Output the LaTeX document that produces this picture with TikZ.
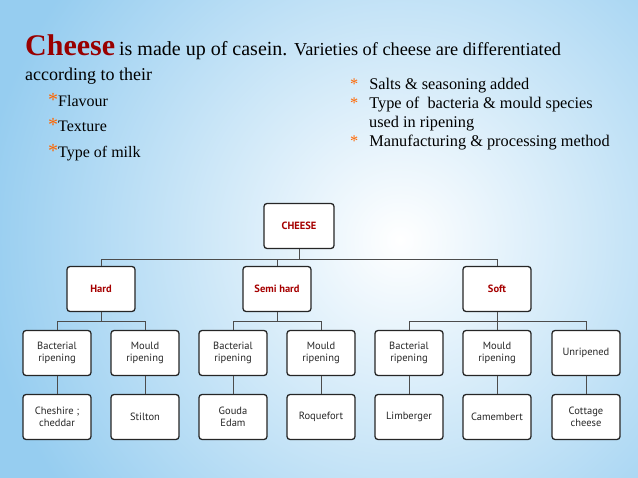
\documentclass[tikz,border=0pt]{standalone}
\usepackage{fontspec}
\setmainfont{Liberation Serif}
\newfontfamily\boxfont{PT Sans}
\definecolor{bgout}{RGB}{150,205,240}
\begin{document}
\begin{tikzpicture}[x=1pt,y=-1pt,
 box/.style={draw=black!85,line width=1.3pt,rounded corners=3pt,fill=white,minimum width=68pt,minimum height=45pt,align=center,font=\boxfont\fontsize{10.5}{12.5}\selectfont,text=black!85},
 top/.style={box,text=red!65!black,font=\boxfont\bfseries\fontsize{10.5}{12.5}\selectfont},
 ln/.style={draw=black!70,line width=0.9pt}]
\useasboundingbox (0,0) rectangle (638,478);
\fill[bgout] (0,0) rectangle (638,478);
\begin{scope}
\clip (0,0) rectangle (638,478);
\shade[inner color=white,outer color=bgout] (400,240) circle (420);
\end{scope}
\node[anchor=base west,inner sep=0] (t1) at (25,56) {\textcolor{red!60!black}{\fontsize{30}{32}\selectfont\bfseries Cheese}\hspace{4pt}\fontsize{20}{22}\selectfont is made up of casein. \fontsize{18.3}{20}\selectfont Varieties of cheese are differentiated};
\node[anchor=base west,inner sep=0,font=\fontsize{18}{20}\selectfont] (t2) at (25,81) {according to their};
\foreach \y/\t in {107/Flavour,132/Texture,158/Type of milk}
 \node[anchor=base west,inner sep=0,font=\fontsize{16}{18}\selectfont] at (48,\y) {\textcolor{orange!80!red}{\fontsize{20}{20}\selectfont *}\t};
\node[anchor=north west,inner sep=0,align=left,font=\fontsize{16.3}{19}\selectfont] (r) at (350,78) {%
\textcolor{orange!80!red}{*}\hspace{11pt}Salts \& seasoning added\\
\textcolor{orange!80!red}{*}\hspace{11pt}Type of\ \ bacteria \& mould species\\
\hspace{19pt}used in ripening\\
\textcolor{orange!80!red}{*}\hspace{11pt}Manufacturing \& processing method};
\node[top,minimum width=70pt] (c) at (299,226) {CHEESE};
\node[top] (h) at (101,289) {Hard};
\node[top] (s) at (277,289) {Semi hard};
\node[top] (f) at (497,289) {Soft};
\foreach \n/\x/\a/\b in {a/57/Bacterial\\ripening/Cheshire ;\\cheddar, b/145/Mould\\ripening/Stilton, c/233/Bacterial\\ripening/Gouda\\Edam, d/321/Mould\\ripening/Roquefort, e/409/Bacterial\\ripening/Limberger, g/497/Mould\\ripening/Camembert, k/586/Unripened/Cottage\\cheese}{
 \node[box] (m\n) at (\x,353) {\a};
 \node[box] (l\n) at (\x,417) {\b};
 \draw[ln] (m\n.south) -- (l\n.north);}
\draw[ln] (c.south) -- ++(0,10) -| (h.north);
\draw[ln] (c.south) ++(0,10) -| (s.north);
\draw[ln] (c.south) ++(0,10) -| (f.north);
\draw[ln] (h.south) -- ++(0,9) -| (ma.north); \draw[ln] (h.south) ++(0,9) -| (mb.north);
\draw[ln] (s.south) -- ++(0,9) -| (mc.north); \draw[ln] (s.south) ++(0,9) -| (md.north);
\draw[ln] (f.south) -- ++(0,9) -| (me.north); \draw[ln] (f.south) ++(0,9) -| (mg.north); \draw[ln] (f.south) ++(0,9) -| (mk.north);
\end{tikzpicture}
\end{document}
